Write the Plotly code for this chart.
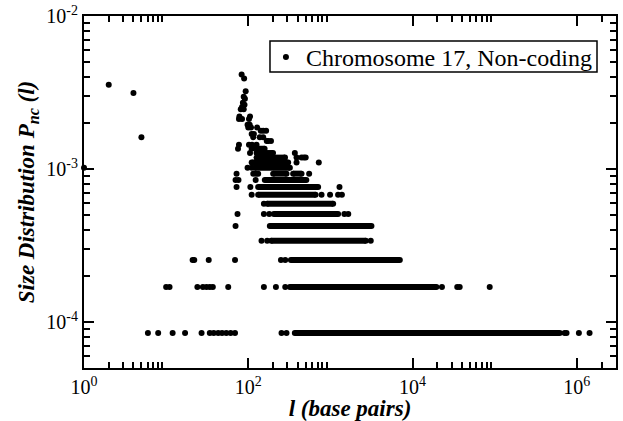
import plotly.graph_objects as go

# total number of non-coding segments (a single occurrence -> 1/N_TOTAL)
N_TOTAL = 11800

# isolated points: segment length l (bp) and number of occurrences
iso_len = [1, 2, 4, 5,
           83, 89, 93, 88, 91, 86, 90, 84, 81, 88,
           78, 105, 77, 84, 102, 98, 104, 100, 108, 128,
           142, 152, 165, 110, 117, 115, 138, 152, 168, 175, 189,
           77, 102, 111, 126, 75, 110, 105, 369,
           387, 445, 475, 500, 387, 722, 98, 110,
           72, 115, 124, 132, 551, 70, 76, 123,
           72, 106, 1290, 110, 780, 990, 1240, 1380, 155,
           74, 155, 180, 1480, 1650, 70, 145, 170, 3100,
           21, 22, 33, 69, 250, 282,
           10, 11, 24, 28, 31, 34, 37, 57, 155, 217, 282, 22800, 35000, 37500, 87000,
           6, 8, 12, 17, 27, 34, 38, 43, 48, 54, 61, 69, 254, 292,
           710000, 750000, 1060000, 1430000]
iso_cnt = [12, 42, 37, 19,
           49, 46, 38, 35, 34, 32, 31, 30, 29, 29,
           26, 26, 25, 25, 25, 23, 23, 22, 22, 22,
           21, 21, 21, 20, 20, 19, 19, 19, 18, 18, 18,
           17, 17, 17, 17, 16, 16, 15, 15,
           14, 14, 14, 14, 13, 13, 12, 12,
           11, 11, 11, 11, 11, 10, 10, 10,
           9, 9, 9, 8, 8, 8, 8, 8, 7,
           6, 6, 6, 6, 6, 5, 4, 4, 4,
           3, 3, 3, 3, 3, 3,
           2, 2, 2, 2, 2, 2, 2, 2, 2, 2, 2, 2, 2, 2, 2,
           1, 1, 1, 1, 1, 1, 1, 1, 1, 1, 1, 1, 1, 1,
           1, 1, 1, 1]

# dense runs of lengths sharing the same count: count, first length, last length
run_cnt = [16, 15, 14, 13, 12, 11, 11, 10, 9, 8, 7, 6, 5, 4, 3, 2, 1]
run_start = [126, 126, 126, 110, 120, 201, 352, 159, 132, 132, 170, 205, 183, 190, 330, 321, 369]
run_end = [158, 200, 280, 306, 321, 292, 445, 509, 709, 660, 1080, 1240, 3160, 2700, 7000, 19500, 620000]

LEGEND_NAME = "Chromosome 17, Non-coding"

# axis ticks
x_major = [1, 1e2, 1e4, 1e6]
x_major_text = ["10<sup>0</sup>", "10<sup>2</sup>", "10<sup>4</sup>", "10<sup>6</sup>"]
y_major = [1e-4, 1e-3, 1e-2]
y_major_text = ["10<sup>-4</sup>", "10<sup>-3</sup>", "10<sup>-2</sup>"]
X_RANGE = [0, 6.4771]          # log10 of 1 .. 3e6
Y_RANGE = [-4.30103, -2]       # log10 of 5e-5 .. 1e-2

x_minor = [m * 10 ** d for d in (0, 2, 4, 6) for m in range(2, 10) if m * 10 ** d < 10 ** X_RANGE[1]]
y_minor = [m * 10.0 ** d for d in (-5, -4, -3) for m in range(2, 10)
           if 10 ** Y_RANGE[0] < m * 10.0 ** d < 10 ** Y_RANGE[1]]

iso_p = [c / N_TOTAL for c in iso_cnt]
run_x, run_y = [], []
for c, s, e in zip(run_cnt, run_start, run_end):
    run_x += [s, e, None]
    run_y += [c / N_TOTAL, c / N_TOTAL, None]

FONT = '"Liberation Serif", "Times New Roman", Times, serif'
DOT = 6

fig = go.Figure()
fig.add_trace(go.Scatter(
    x=run_x, y=run_y, mode="lines+markers",
    line=dict(color="black", width=DOT),
    marker=dict(color="black", size=DOT, line=dict(width=0)),
    showlegend=False, hoverinfo="skip", cliponaxis=False,
))
fig.add_trace(go.Scatter(
    x=iso_len, y=iso_p, mode="markers",
    marker=dict(color="black", size=DOT, line=dict(width=0)),
    name=LEGEND_NAME, cliponaxis=False,
))
# carrier trace for the minor-tick overlay axes
fig.add_trace(go.Scatter(x=[None], y=[None], xaxis="x2", yaxis="y2",
                         showlegend=False, hoverinfo="skip"))

tickfont = dict(family=FONT, size=20, color="black")
frame = dict(showgrid=False, zeroline=False, showline=True,
             linecolor="black", linewidth=2, mirror="allticks")

fig.update_layout(
    xaxis=dict(
        type="log", range=X_RANGE,
        tickmode="array", tickvals=x_major, ticktext=x_major_text,
        ticks="inside", ticklen=10, tickwidth=2, tickcolor="black", tickfont=tickfont,
        title=dict(text="<b><i>l (base pairs)</i></b>",
                   font=dict(family=FONT, size=23, color="black"), standoff=11),
        **frame,
    ),
    yaxis=dict(
        type="log", range=Y_RANGE,
        tickmode="array", tickvals=y_major, ticktext=y_major_text,
        ticks="inside", ticklen=10, tickwidth=2, tickcolor="black", tickfont=tickfont,
        title=dict(text="<b><i>Size Distribution P<sub>nc</sub> (l)</i></b>",
                   font=dict(family=FONT, size=23, color="black"), standoff=5),
        **frame,
    ),
    xaxis2=dict(
        type="log", range=X_RANGE, overlaying="x", anchor="y2", side="bottom",
        tickmode="array", tickvals=x_minor, showticklabels=False,
        ticks="inside", ticklen=6, tickwidth=2, tickcolor="black",
        **frame,
    ),
    yaxis2=dict(
        type="log", range=Y_RANGE, overlaying="y", anchor="x2", side="left",
        tickmode="array", tickvals=y_minor, showticklabels=False,
        ticks="inside", ticklen=6, tickwidth=2, tickcolor="black",
        **frame,
    ),
    width=623, height=421,
    margin=dict(l=84, r=7, t=16, b=53, autoexpand=False),
    paper_bgcolor="white", plot_bgcolor="white",
    font=dict(family=FONT, color="black"),
    legend=dict(
        x=0.342, y=0.946, xanchor="left", yanchor="top",
        borderwidth=0, bgcolor="rgba(0,0,0,0)",
        font=dict(family=FONT, size=24, color="black"),
    ),
    shapes=[dict(type="rect", xref="paper", yref="paper",
                 x0=0.3496, x1=0.9643, y0=0.8409, y1=0.929,
                 line=dict(color="black", width=1.5), fillcolor="rgba(0,0,0,0)",
                 layer="below")],
)

fig.write_html("out.html")
